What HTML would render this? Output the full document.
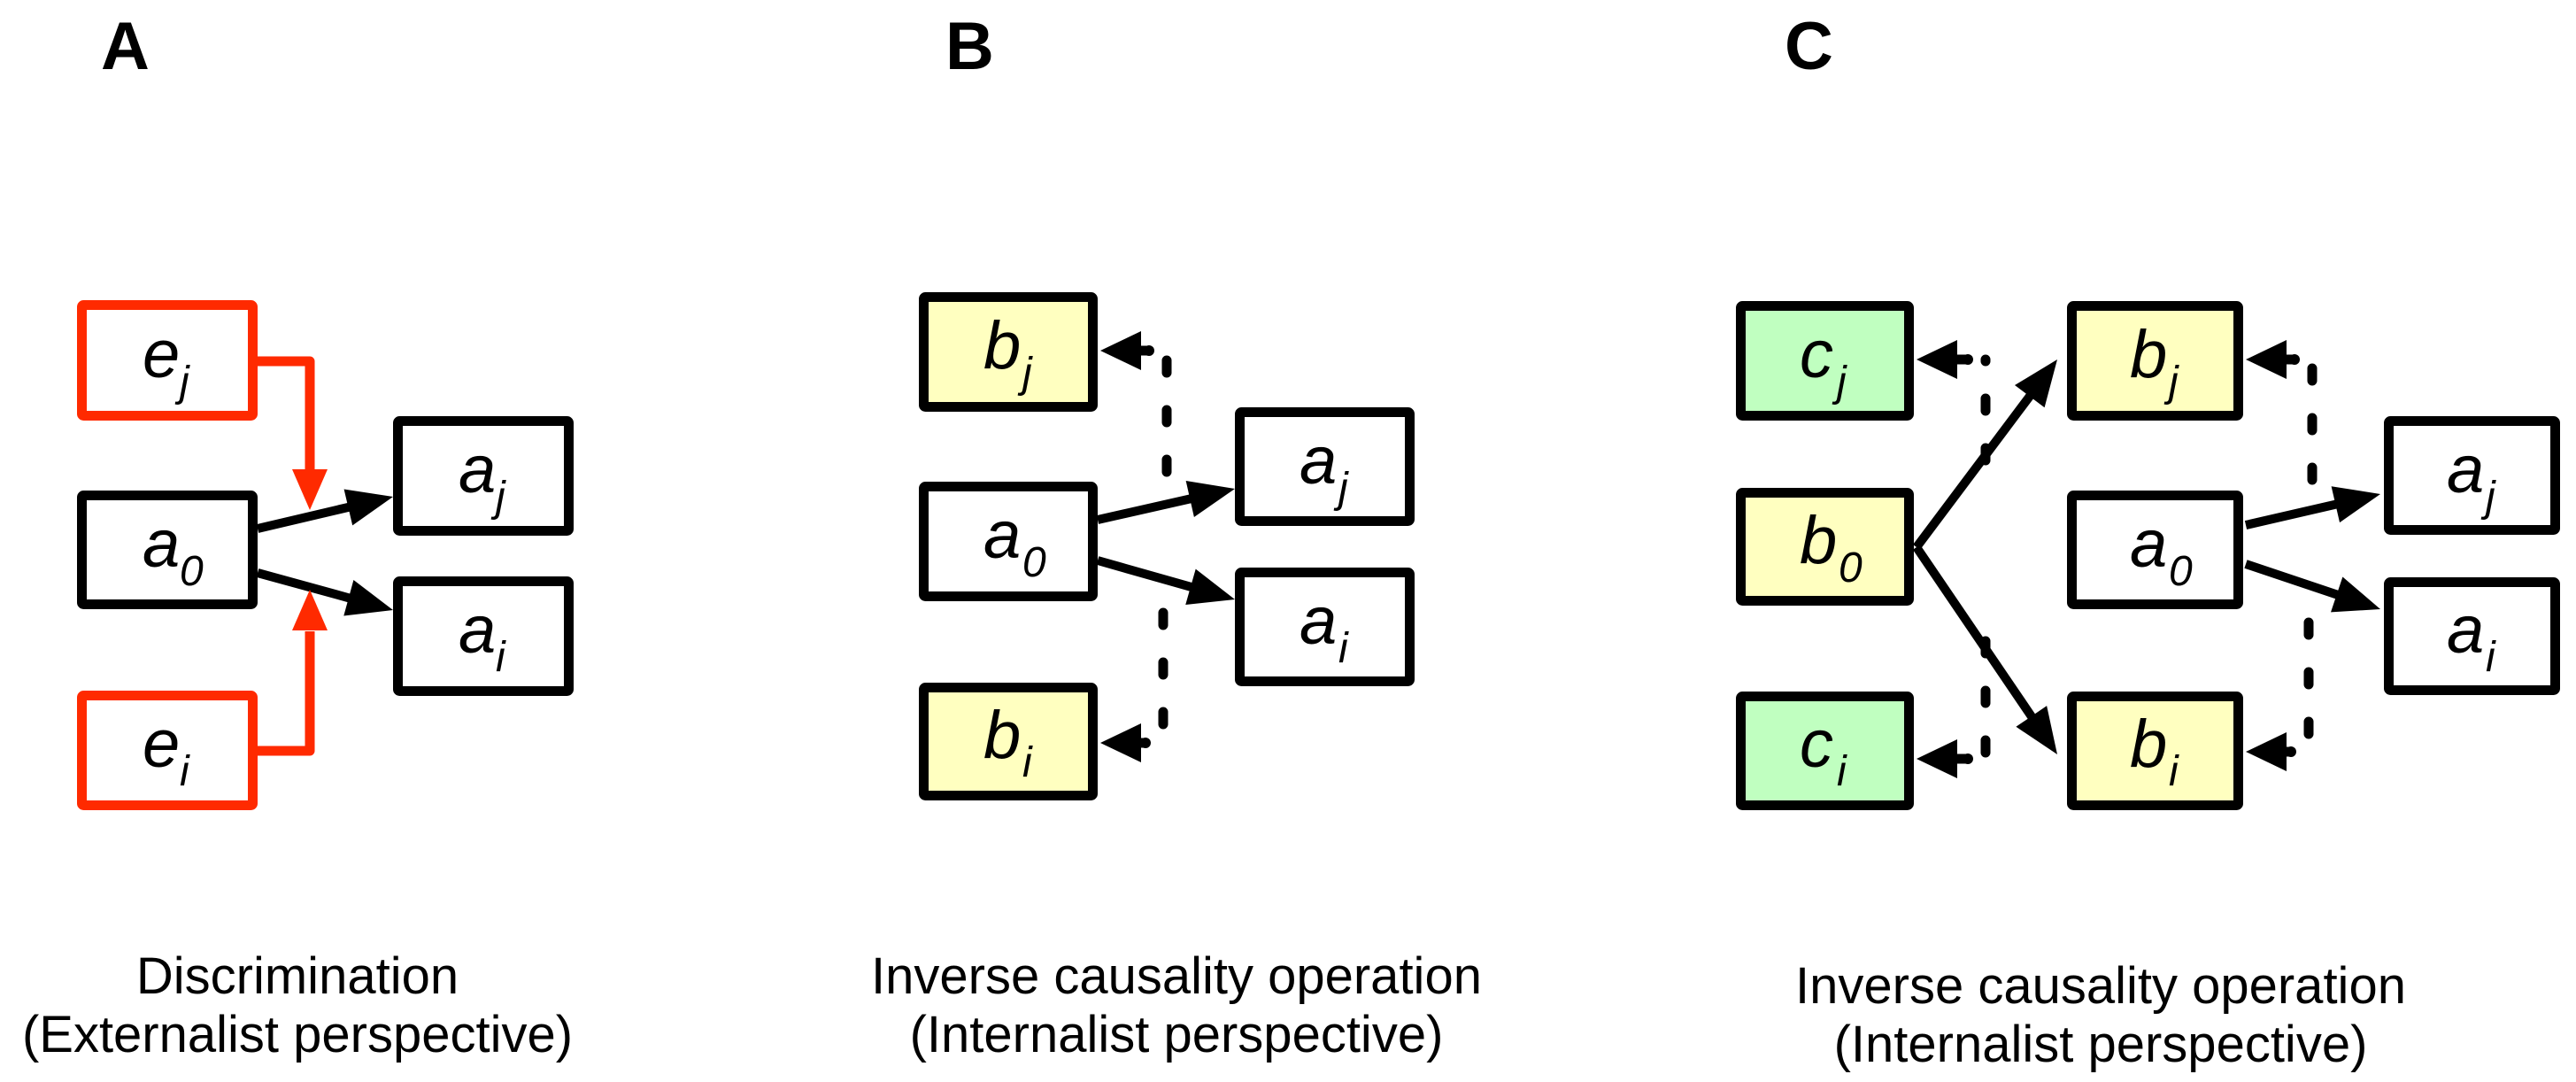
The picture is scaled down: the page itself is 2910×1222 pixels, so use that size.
<!DOCTYPE html>
<html><head><meta charset="utf-8"><style>
html,body{margin:0;padding:0;background:#fff;}
svg{display:block;}
text{font-family:"Liberation Sans",sans-serif;}
.m{font-style:italic;font-size:76px;}
.s{font-style:italic;font-size:48px;}
.cap{font-size:58px;text-anchor:middle;}
.L{font-size:76px;font-weight:bold;}
</style></head><body>
<svg id="sv" xmlns="http://www.w3.org/2000/svg" width="2910" height="1222" viewBox="0 0 2910 1222">
<g id="shapes"></g>
<g id="txt">
<text class="L" x="114" y="78">A</text>
<text class="L" x="1068" y="78">B</text>
<text class="L" x="2016" y="78">C</text>

<text class="cap" x="336" y="1122">Discrimination</text>
<text class="cap" x="336" y="1188">(Externalist perspective)</text>
<text class="cap" x="1329" y="1122">Inverse causality operation</text>
<text class="cap" x="1329" y="1188">(Internalist perspective)</text>
<text class="cap" x="2373" y="1133">Inverse causality operation</text>
<text class="cap" x="2373" y="1199">(Internalist perspective)</text>

<text class="m" x="161" y="426">e</text><text class="s" x="203" y="447">j</text>
<text class="m" x="161" y="640">a</text><text class="s" x="203" y="661">0</text>
<text class="m" x="518" y="556">a</text><text class="s" x="560" y="577">j</text>
<text class="m" x="518" y="737">a</text><text class="s" x="560" y="758">i</text>
<text class="m" x="161" y="866">e</text><text class="s" x="203" y="887">i</text>

<text class="m" x="1111" y="416">b</text><text class="s" x="1155" y="437">j</text>
<text class="m" x="1111" y="630">a</text><text class="s" x="1155" y="651">0</text>
<text class="m" x="1468" y="546">a</text><text class="s" x="1512" y="567">j</text>
<text class="m" x="1468" y="727">a</text><text class="s" x="1512" y="748">i</text>
<text class="m" x="1111" y="856">b</text><text class="s" x="1155" y="877">i</text>

<text class="m" x="2033" y="426">c</text><text class="s" x="2075" y="447">j</text>
<text class="m" x="2033" y="636">b</text><text class="s" x="2077" y="657">0</text>
<text class="m" x="2033" y="866">c</text><text class="s" x="2075" y="887">i</text>
<text class="m" x="2406" y="426">b</text><text class="s" x="2450" y="447">j</text>
<text class="m" x="2406" y="640">a</text><text class="s" x="2450" y="661">0</text>
<text class="m" x="2406" y="866">b</text><text class="s" x="2450" y="887">i</text>
<text class="m" x="2764" y="556">a</text><text class="s" x="2808" y="577">j</text>
<text class="m" x="2764" y="737">a</text><text class="s" x="2808" y="758">i</text>
</g>
</svg>
<script>
(function(){
var NS="http://www.w3.org/2000/svg",g=document.getElementById("shapes");
function el(t,a){var e=document.createElementNS(NS,t);for(var k in a)e.setAttribute(k,a[k]);g.appendChild(e);return e;}
function box(x1,y1,x2,y2,fill,stroke){el("rect",{x:x1+5.5,y:y1+5.5,width:x2-x1-11,height:y2-y1-11,fill:fill||"#fff",stroke:stroke||"#000","stroke-width":11,rx:2});}
function head(x1,y1,x2,y2,L,H,c){var dx=x2-x1,dy=y2-y1,d=Math.sqrt(dx*dx+dy*dy);dx/=d;dy/=d;var bx=x2-dx*L,by=y2-dy*L;
el("polygon",{points:x2+","+y2+" "+(bx-dy*H)+","+(by+dx*H)+" "+(bx+dy*H)+","+(by-dx*H),fill:c});return [bx+dx*2,by+dy*2];}
function arrow(x1,y1,x2,y2,c,w){var b=head(x1,y1,x2,y2,52,21,c||"#000");el("line",{x1:x1,y1:y1,x2:b[0],y2:b[1],stroke:c||"#000","stroke-width":w||10});}
function poly(pts,c,w,dash){var a={points:pts,fill:"none",stroke:c,"stroke-width":w,"stroke-linejoin":"round"};if(dash){a["stroke-dasharray"]=dash;a["stroke-linecap"]="round";}el("polyline",a);}
function dashed(x,ys,ye,tx){
 poly(x+","+ys+" "+x+","+ye,"#000",11,"14 42");
 el("circle",{cx:x-20,cy:ye,r:6,fill:"#000"});
 el("line",{x1:x-20,y1:ye,x2:tx+44,y2:ye,stroke:"#000","stroke-width":11});
 head(x,ye,tx,ye,46,22,"#000");
}
box(87,339,291,475,"#fff","#ff2a00");
box(87,780,291,915,"#fff","#ff2a00");
box(87,554,291,688);
box(444,470,648,605);
box(444,651,648,786);
arrow(291,597,444,561);
arrow(291,647,444,689);
poly("285,408 350,408 350,535","#ff2a00",11);
head(350,400,350,576,46,20,"#ff2a00");
poly("285,848 350,848 350,713","#ff2a00",11);
head(350,860,350,666,46,20,"#ff2a00");
box(1038,330,1240,465,"#ffffc0");
box(1038,544,1240,679);
box(1038,771,1240,904,"#ffffc0");
box(1395,460,1598,594);
box(1395,641,1598,775);
arrow(1240,587,1395,552);
arrow(1240,633,1395,677);
dashed(1318,533,396,1243);
dashed(1314,692,839,1243);
box(1961,340,2162,475,"#c0ffc0");
box(1961,551,2162,684,"#ffffc0");
box(1961,781,2162,915,"#c0ffc0");
box(2335,340,2534,475,"#ffffc0");
box(2335,554,2534,688);
box(2335,781,2534,915,"#ffffc0");
box(2693,470,2892,604);
box(2693,652,2892,785);
dashed(2243,520,406,2165);
dashed(2243,724,857,2165);
dashed(2612,542,406,2537);
dashed(2608,703,849,2537);
arrow(2165,618,2324,406,"#000",10);
arrow(2165,618,2324,852,"#000",10);
arrow(2537,593,2689,558);
arrow(2537,637,2689,688);
})();
</script>
</body></html>
